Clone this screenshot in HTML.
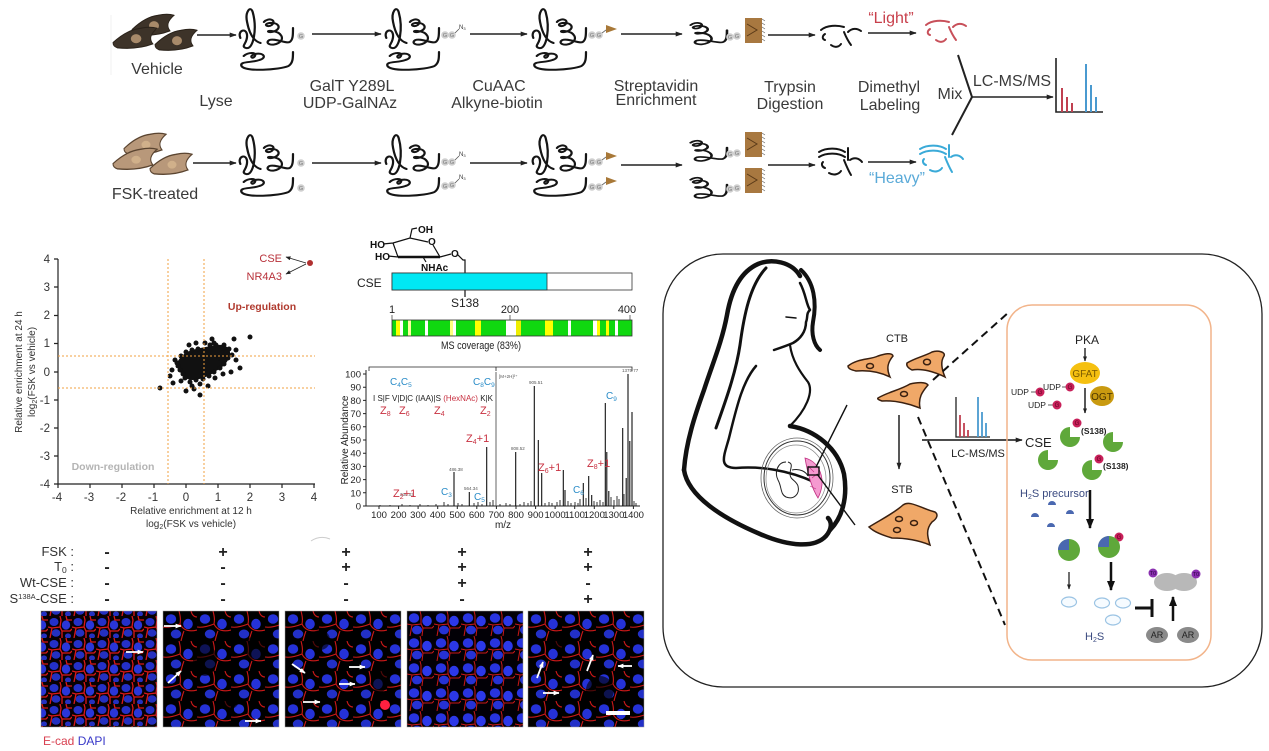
<!DOCTYPE html>
<html><head><meta charset="utf-8"><title>Figure</title>
<style>html,body{margin:0;padding:0;background:#fff}svg{display:block}text{font-family:"Liberation Sans",Arial,sans-serif}</style>
</head><body>
<svg xmlns="http://www.w3.org/2000/svg" width="1269" height="751" viewBox="0 0 1269 751">
<defs>
<marker id="a" viewBox="0 0 10 10" refX="9" refY="5" markerUnits="userSpaceOnUse" markerWidth="7" markerHeight="7" orient="auto"><path d="M0,1.5 L10,5 L0,8.5 Z" fill="#222"/></marker>
<marker id="b" viewBox="0 0 10 10" refX="9" refY="5" markerUnits="userSpaceOnUse" markerWidth="10" markerHeight="10" orient="auto"><path d="M0,1 L10,5 L0,9 Z" fill="#111"/></marker>
<marker id="c" viewBox="0 0 10 10" refX="9" refY="5" markerUnits="userSpaceOnUse" markerWidth="5" markerHeight="5" orient="auto"><path d="M0,1 L10,5 L0,9 Z" fill="#222"/></marker>
<marker id="w" viewBox="0 0 10 10" refX="9" refY="5" markerUnits="userSpaceOnUse" markerWidth="6" markerHeight="6" orient="auto"><path d="M0,1 L10,5 L0,9 Z" fill="#fff"/></marker>
<g id="prot" fill="none" stroke="#151515" stroke-width="2" stroke-linecap="round">
<path d="M3,30 C0,22 9,19 9,28 C9,36 3,38 8,40 C15,42 18,20 14,4 C12,-3 7,4 9,14 C11,26 15,33 21,35"/>
<path d="M24,14 C28,9 36,12 31,17 C27,20 23,16 29,15 C37,14 40,20 34,23 C28,26 25,22 31,23 C40,24 43,31 37,35 C31,39 24,35 29,32 C34,30 44,36 47,34 C50,32 50,27 50,20"/>
<path d="M6,48 C10,44 18,44 16,48 C14,52 10,48 16,46 C24,44 27,50 20,52 C13,55 2,53 4,58 C7,64 38,62 46,58 C50,55 50,50 50,44"/>
</g>
<g id="spi" fill="none" stroke="#151515" stroke-width="2" stroke-linecap="round">
<path d="M2,6 C6,1 14,4 9,9 C5,12 1,8 7,7 C15,6 18,12 12,15 C6,18 3,14 9,15 C18,16 21,23 15,27 C9,31 2,27 7,24 C12,22 24,28 27,26 C30,24 30,19 30,12"/>
</g>
<g id="cellV"><path d="M0,12 C8,6 16,2 26,1 C32,0 38,0 42,1 C36,5 34,9 38,13 C28,16 16,17 4,16 C1,15 0,14 0,12 Z" fill="#3d3329" stroke="#2a221a" stroke-width="0.8"/><ellipse cx="22" cy="9" rx="5" ry="3.5" fill="#a88a6a"/></g>
<g id="cellF"><path d="M0,12 C8,6 16,2 26,1 C32,0 38,0 42,1 C36,5 34,9 38,13 C28,16 16,17 4,16 C1,15 0,14 0,12 Z" fill="#b8987a" stroke="#5a4430" stroke-width="1"/><ellipse cx="22" cy="9" rx="4.5" ry="3" fill="#d0b08a"/></g>
<g id="pep" fill="none" stroke-width="2" stroke-linecap="round">
<path d="M4,7 C10,2 20,2 27,4 M8,11 C5,13 5,16 8,17 M14,22 C18,25 22,24 24,21 M27,9 C29,14 31,18 34,22 M31,9 C35,5 40,5 44,8"/>
</g>
<g id="pepH" fill="none" stroke-width="2" stroke-linecap="round">
<path d="M2,6 C10,1 22,2 28,6 M2,11 C10,6 22,7 28,11 M6,16 C4,18 5,21 8,22 M12,27 C17,30 22,28 24,25 M27,14 C29,19 31,24 34,29 M31,2 L31,14 M33,14 C37,11 42,12 45,16"/>
</g>
<g id="gg"><circle r="3.8" fill="#cfcfcf"/><text y="2" font-size="5.5" fill="#777" text-anchor="middle">G</text></g>
<pattern id="pA" width="24" height="22" patternUnits="userSpaceOnUse">
<rect width="24" height="22" fill="#080104"/>
<ellipse cx="6" cy="6" rx="4.5" ry="4" fill="#2430c8"/>
<ellipse cx="18" cy="9" rx="4.2" ry="4.6" fill="#2a36d8"/>
<ellipse cx="8" cy="17" rx="4.4" ry="3.8" fill="#2430c0"/>
<ellipse cx="20" cy="20" rx="3" ry="2.6" fill="#2430c0"/>
<path d="M0,11 L4,12 L12,11 L13,4 L12,0 M12,11 L14,15 L22,15 L24,13 M14,15 L14,22 M4,12 L2,22 M18,0 L19,4 L24,4" stroke="#d81818" stroke-width="1.3" fill="none"/>
</pattern>
<pattern id="pA2" width="27" height="25" patternUnits="userSpaceOnUse">
<rect width="27" height="25" fill="#020006"/>
<ellipse cx="7" cy="7" rx="5.2" ry="4.7" fill="#2834e0"/>
<ellipse cx="20" cy="10" rx="4.8" ry="5.2" fill="#2c38e8"/>
<ellipse cx="10" cy="19" rx="5" ry="4.4" fill="#2632d4"/>
<path d="M0,13 L5,14 L14,13 L14,4 L13,0 M14,13 L16,17 L25,17 L27,15 M16,17 L15,25 M5,14 L3,25" stroke="#c81818" stroke-width="1" fill="none"/>
</pattern>
<pattern id="pB" width="34" height="30" patternUnits="userSpaceOnUse">
<rect width="34" height="30" fill="#000"/>
<ellipse cx="8" cy="8" rx="5.2" ry="4.7" fill="#2532d8"/>
<ellipse cx="25" cy="13" rx="4.8" ry="5.2" fill="#2532d8"/>
<ellipse cx="13" cy="23" rx="5.2" ry="4.5" fill="#2230c8"/>
<path d="M0,16 C6,17 12,15 17,13 C18,8 17,4 16,0 M17,13 C20,19 26,21 34,19 M18,30 C19,26 20,22 21,20 M28,0 C29,4 31,6 34,6" stroke="#cc1818" stroke-width="1.1" fill="none"/>
</pattern>
</defs>
<rect width="1269" height="751" fill="#fff"/>

<!-- ================= TOP WORKFLOW ================= -->
<line x1="111" y1="15" x2="111" y2="75" stroke="#f2f2f2" stroke-width="1"/>
<use href="#cellV" transform="translate(132,14) scale(1,1.3)"/>
<use href="#cellV" transform="translate(113,27) scale(1.05,1.3)"/>
<use href="#cellV" transform="translate(155,29) scale(1,1.3)"/>
<use href="#cellF" transform="translate(124,133) scale(1,1.3)"/>
<use href="#cellF" transform="translate(113,148) scale(1.05,1.3)"/>
<use href="#cellF" transform="translate(150,153) scale(1,1.3)"/>

<g stroke="#222" stroke-width="1.6" marker-end="url(#a)">
<line x1="197" y1="35" x2="236" y2="35"/>
<line x1="312" y1="34" x2="381" y2="34"/>
<line x1="470" y1="34" x2="527" y2="34"/>
<line x1="621" y1="34" x2="682" y2="34"/>
<line x1="768" y1="35" x2="815" y2="35"/>
<line x1="868" y1="33" x2="916" y2="33"/>
<line x1="193" y1="163" x2="236" y2="163"/>
<line x1="312" y1="163" x2="381" y2="163"/>
<line x1="470" y1="163" x2="527" y2="163"/>
<line x1="621" y1="165" x2="682" y2="165"/>
<line x1="768" y1="165" x2="815" y2="165"/>
<line x1="868" y1="162" x2="916" y2="162"/>
<line x1="972" y1="97" x2="1053" y2="97"/>
</g>
<polyline points="958,55 972,97 952,135" fill="none" stroke="#222" stroke-width="2"/>

<!-- proteins row 1 -->
<use href="#prot" transform="translate(237,8) scale(1.12,1)"/>
<use href="#prot" transform="translate(383,8) scale(1.12,1)"/>
<use href="#prot" transform="translate(530,8) scale(1.12,1)"/>
<use href="#gg" x="301" y="36"/>
<use href="#gg" x="445" y="35"/><use href="#gg" x="452" y="35"/>
<line x1="455" y1="33" x2="459" y2="29" stroke="#555" stroke-width="0.8"/><text x="459" y="29" font-size="6" fill="#333">N<tspan font-size="4" dy="1">3</tspan></text>
<use href="#gg" x="592" y="35"/><use href="#gg" x="599" y="35"/>
<line x1="602" y1="33" x2="606" y2="30" stroke="#666" stroke-width="0.8"/><path d="M606,25 L617,29 L606,33 Z" fill="#a87838"/>
<!-- proteins row 2 -->
<use href="#prot" transform="translate(237,134) scale(1.12,1)"/>
<use href="#prot" transform="translate(383,134) scale(1.12,1)"/>
<use href="#prot" transform="translate(530,134) scale(1.12,1)"/>
<use href="#gg" x="301" y="163"/><use href="#gg" x="301" y="188"/>
<use href="#gg" x="445" y="162"/><use href="#gg" x="452" y="162"/>
<line x1="455" y1="160" x2="459" y2="156" stroke="#555" stroke-width="0.8"/><text x="459" y="156" font-size="6" fill="#333">N<tspan font-size="4" dy="1">3</tspan></text>
<use href="#gg" x="445" y="186"/><use href="#gg" x="452" y="185"/>
<line x1="455" y1="183" x2="459" y2="179" stroke="#555" stroke-width="0.8"/><text x="459" y="179" font-size="6" fill="#333">N<tspan font-size="4" dy="1">3</tspan></text>
<use href="#gg" x="592" y="162"/><use href="#gg" x="599" y="162"/>
<line x1="602" y1="160" x2="606" y2="157" stroke="#666" stroke-width="0.8"/><path d="M606,152 L617,156 L606,160 Z" fill="#a87838"/>
<use href="#gg" x="592" y="187"/><use href="#gg" x="599" y="187"/>
<line x1="602" y1="185" x2="606" y2="182" stroke="#666" stroke-width="0.8"/><path d="M606,177 L617,181 L606,185 Z" fill="#a87838"/>

<!-- streptavidin stage -->
<use href="#spi" transform="translate(688,20) scale(1.3,0.85)"/>
<use href="#gg" x="730" y="37"/><use href="#gg" x="737" y="36"/>
<rect x="745" y="18" width="17" height="25" fill="#a87840"/>
<path d="M747,24 L757,30 L747,36" fill="none" stroke="#5a3a18" stroke-width="1"/>
<path d="M762,19 l3,2 M762,23 l3,2 M762,27 l3,2 M762,31 l3,2 M762,35 l3,2 M762,39 l3,2" stroke="#666" stroke-width="0.7"/>
<use href="#spi" transform="translate(688,138) scale(1.3,0.8)"/>
<use href="#gg" x="730" y="154"/><use href="#gg" x="737" y="153"/>
<rect x="745" y="132" width="17" height="25" fill="#a87840"/>
<path d="M747,138 L757,144 L747,150" fill="none" stroke="#5a3a18" stroke-width="1"/>
<path d="M762,133 l3,2 M762,137 l3,2 M762,141 l3,2 M762,145 l3,2 M762,149 l3,2 M762,153 l3,2" stroke="#666" stroke-width="0.7"/>
<use href="#spi" transform="translate(688,175) scale(1.3,0.8)"/>
<use href="#gg" x="730" y="189"/><use href="#gg" x="737" y="188"/>
<rect x="745" y="168" width="17" height="25" fill="#a87840"/>
<path d="M747,174 L757,180 L747,186" fill="none" stroke="#5a3a18" stroke-width="1"/>
<path d="M762,169 l3,2 M762,173 l3,2 M762,177 l3,2 M762,181 l3,2 M762,185 l3,2 M762,189 l3,2" stroke="#666" stroke-width="0.7"/>

<!-- peptides -->
<use href="#pep" x="817" y="23" stroke="#151515"/>
<use href="#pep" x="922" y="18" stroke="#c8505a"/>
<use href="#pepH" x="817" y="146" stroke="#151515"/>
<use href="#pepH" x="918" y="143" stroke="#3aaad8"/>

<!-- spectrum top right -->
<path d="M1056,58 L1056,112 L1103,112" fill="none" stroke="#222" stroke-width="1.6"/>
<g stroke="#c04050" stroke-width="2"><line x1="1062" y1="88" x2="1062" y2="112"/><line x1="1067" y1="97" x2="1067" y2="112"/><line x1="1072" y1="103" x2="1072" y2="112"/></g>
<g stroke="#4a9ad0" stroke-width="2"><line x1="1086" y1="64" x2="1086" y2="112"/><line x1="1091" y1="85" x2="1091" y2="112"/><line x1="1096" y1="97" x2="1096" y2="112"/></g>

<g font-size="16" fill="#3a3a3a" text-anchor="middle">
<text x="157" y="74">Vehicle</text>
<text x="155" y="199">FSK-treated</text>
<text x="216" y="106">Lyse</text>
<text x="352" y="91">GalT Y289L</text>
<text x="350" y="108">UDP-GalNAz</text>
<text x="499" y="91">CuAAC</text>
<text x="497" y="108">Alkyne-biotin</text>
<text x="656" y="91">Streptavidin</text>
<text x="656" y="105">Enrichment</text>
<text x="790" y="92">Trypsin</text>
<text x="790" y="109">Digestion</text>
<text x="889" y="92">Dimethyl</text>
<text x="890" y="110">Labeling</text>
<text x="950" y="99">Mix</text>
<text x="1012" y="86">LC-MS/MS</text>
<text x="891" y="23" fill="#c8404c">“Light”</text>
<text x="897" y="183" fill="#5aaad8">“Heavy”</text>
</g>

<!-- ================= SCATTER ================= -->
<g stroke="#222" stroke-width="1.2" fill="none">
<path d="M58,259 L58,484 L315,484"/>
<path d="M54,259 H58 M54,287 H58 M54,315.5 H58 M54,343.5 H58 M54,372 H58 M54,400 H58 M54,428 H58 M54,456 H58 M54,484 H58"/>
<path d="M58,484 V488 M90,484 V488 M122,484 V488 M154,484 V488 M186,484 V488 M218,484 V488 M250,484 V488 M282,484 V488 M314,484 V488"/>
</g>
<g font-size="11.5" fill="#333" text-anchor="end">
<text x="50" y="263">4</text><text x="50" y="291">3</text><text x="50" y="319">2</text><text x="50" y="347">1</text><text x="50" y="376">0</text><text x="50" y="404">-1</text><text x="50" y="432">-2</text><text x="50" y="460">-3</text><text x="50" y="488">-4</text>
</g>
<g font-size="11.5" fill="#333" text-anchor="middle">
<text x="57" y="501">-4</text><text x="89" y="501">-3</text><text x="121" y="501">-2</text><text x="153" y="501">-1</text><text x="186" y="501">0</text><text x="218" y="501">1</text><text x="250" y="501">2</text><text x="282" y="501">3</text><text x="314" y="501">4</text>
</g>
<g font-size="10" fill="#333" text-anchor="middle">
<text x="191" y="514">Relative enrichment at 12 h</text>
<text x="191" y="527">log<tspan font-size="7" dy="2">2</tspan><tspan dy="-2">(FSK vs vehicle)</tspan></text>
<text transform="translate(22,372) rotate(-90)">Relative enrichment at 24 h</text>
<text transform="translate(35,372) rotate(-90)">log<tspan font-size="7" dy="2">2</tspan><tspan dy="-2">(FSK vs vehicle)</tspan></text>
</g>
<path d="M177,363 C180,356 186,352 192,350 C200,348 210,346 217,345 C225,344 231,348 230,354 C229,362 222,368 216,371 C210,376 200,380 192,380 C185,380 178,372 177,363 Z" fill="#111"/>
<g fill="#111">
<circle cx="160" cy="388" r="2.5"/><circle cx="173" cy="383" r="2.5"/><circle cx="186" cy="391" r="2.5"/><circle cx="194" cy="389" r="2.5"/><circle cx="200" cy="395" r="2.5"/><circle cx="231" cy="372" r="2.5"/><circle cx="234" cy="339" r="2.5"/><circle cx="250" cy="337" r="2.5"/><circle cx="212" cy="339" r="2.5"/><circle cx="219" cy="358" r="2.5"/><circle cx="175" cy="360" r="2.5"/><circle cx="178" cy="366" r="2.5"/><circle cx="180" cy="370" r="2.5"/><circle cx="183" cy="374" r="2.5"/><circle cx="185" cy="378" r="2.5"/><circle cx="190" cy="382" r="2.5"/><circle cx="196" cy="380" r="2.5"/><circle cx="203" cy="379" r="2.5"/><circle cx="209" cy="376" r="2.5"/><circle cx="214" cy="372" r="2.5"/><circle cx="220" cy="368" r="2.5"/><circle cx="224" cy="364" r="2.5"/><circle cx="228" cy="358" r="2.5"/><circle cx="226" cy="352" r="2.5"/><circle cx="222" cy="348" r="2.5"/><circle cx="216" cy="345" r="2.5"/><circle cx="210" cy="345" r="2.5"/><circle cx="204" cy="350" r="2.5"/><circle cx="198" cy="349" r="2.5"/><circle cx="192" cy="350" r="2.5"/><circle cx="186" cy="352" r="2.5"/><circle cx="181" cy="356" r="2.5"/><circle cx="177" cy="363" r="2.5"/><circle cx="205" cy="343" r="2.5"/><circle cx="214" cy="343" r="2.5"/><circle cx="224" cy="345" r="2.5"/><circle cx="229" cy="349" r="2.5"/><circle cx="232" cy="355" r="2.5"/><circle cx="236" cy="360" r="2.5"/><circle cx="236" cy="350" r="2.5"/><circle cx="200" cy="384" r="2.5"/><circle cx="192" cy="386" r="2.5"/><circle cx="181" cy="381" r="2.5"/><circle cx="208" cy="386" r="2.5"/><circle cx="172" cy="370" r="2.5"/><circle cx="215" cy="378" r="2.5"/><circle cx="223" cy="374" r="2.5"/><circle cx="196" cy="343" r="2.5"/><circle cx="189" cy="345" r="2.5"/><circle cx="240" cy="368" r="2.5"/><circle cx="170" cy="376" r="2.5"/>
</g>
<g stroke="#f0a040" stroke-width="1" stroke-dasharray="2,2">
<line x1="168" y1="259" x2="168" y2="484"/><line x1="204" y1="259" x2="204" y2="484"/>
<line x1="58" y1="356" x2="315" y2="356"/><line x1="58" y1="388" x2="315" y2="388"/>
</g>
<circle cx="310" cy="263" r="3" fill="#b03030"/>
<g stroke="#222" stroke-width="0.9" marker-end="url(#c)"><line x1="306" y1="263" x2="286" y2="257"/><line x1="306" y1="264" x2="286" y2="274"/></g>
<text x="282" y="262" font-size="11" fill="#b8313a" text-anchor="end">CSE</text>
<text x="282" y="280" font-size="11" fill="#b8313a" text-anchor="end">NR4A3</text>
<text x="262" y="310" font-size="10.5" font-weight="bold" fill="#b03a2e" text-anchor="middle">Up-regulation</text>
<text x="113" y="470" font-size="10.5" font-weight="bold" fill="#b4b4b4" text-anchor="middle">Down-regulation</text>

<!-- ================= CSE DOMAIN ================= -->
<g fill="none" stroke="#111" stroke-width="1.2">
<path d="M393,243 L410,238 L428,242 M433,245 L440,257 M398,257 L393,243 M383,244 L393,243 M388,256 L398,257 M423,257 L426,262 M440,257 L451,254 M457,254 L463,260 L465,260 L465,273 M410,238 L412,229 L417,228"/>
<path d="M398,257 L423,257 L440,257" stroke-width="2.6"/>
<line x1="465" y1="290" x2="465" y2="297"/>
</g>
<g font-size="10" font-weight="bold" fill="#111">
<text x="418" y="233">OH</text><text x="428" y="245">O</text><text x="370" y="248">HO</text><text x="375" y="260">HO</text><text x="421" y="271">NHAc</text><text x="451" y="257">O</text>
</g>
<text x="357" y="287" font-size="12" fill="#222">CSE</text>
<rect x="392" y="273" width="240" height="17" fill="#fff" stroke="#333" stroke-width="0.8"/>
<rect x="392" y="273" width="155" height="17" fill="#00e8f4" stroke="#333" stroke-width="0.8"/>
<text x="465" y="307" font-size="12" fill="#222" text-anchor="middle">S138</text>
<g font-size="11" fill="#222" text-anchor="middle"><text x="392" y="313">1</text><text x="510" y="313">200</text><text x="627" y="313">400</text></g>
<g stroke="#333" stroke-width="0.7"><line x1="392" y1="315" x2="392" y2="320"/><line x1="510" y1="315" x2="510" y2="320"/><line x1="630" y1="315" x2="630" y2="320"/></g>
<rect x="392" y="320" width="240" height="16" fill="#10d810" stroke="#333" stroke-width="0.8"/>
<g>
<rect x="396" y="320.5" width="4" height="15" fill="#ff0"/><rect x="400" y="320.5" width="3" height="15" fill="#fff"/><rect x="408" y="320.5" width="3" height="15" fill="#ffffa0"/>
<rect x="425" y="320.5" width="3" height="15" fill="#fff"/><rect x="450" y="320.5" width="3" height="15" fill="#ffff80"/><rect x="453" y="320.5" width="3" height="15" fill="#fff"/>
<rect x="475" y="320.5" width="6" height="15" fill="#ff0"/><rect x="506" y="320.5" width="10" height="15" fill="#fff"/><rect x="516" y="320.5" width="5" height="15" fill="#ee0"/>
<rect x="545" y="320.5" width="8" height="15" fill="#ff0"/><rect x="568" y="320.5" width="3" height="15" fill="#fff"/>
<rect x="593" y="320.5" width="4" height="15" fill="#fff"/><rect x="597" y="320.5" width="3" height="15" fill="#ff0"/><rect x="606" y="320.5" width="3" height="15" fill="#ff0"/><rect x="615" y="320.5" width="3" height="15" fill="#fff"/>
</g>
<text x="481" y="349" font-size="11" fill="#222" text-anchor="middle" textLength="80" lengthAdjust="spacingAndGlyphs">MS coverage (83%)</text>

<!-- ================= MS SPECTRUM ================= -->
<g stroke="#222" stroke-width="1" fill="none">
<path d="M366,370 L366,506 L640,506"/>
<path d="M363,374 H366 M363,387.2 H366 M363,400.4 H366 M363,413.6 H366 M363,426.8 H366 M363,440 H366 M363,453.2 H366 M363,466.4 H366 M363,479.6 H366 M363,492.8 H366 M363,506 H366"/>
<path d="M379,506 v3 M398.6,506 v3 M418.1,506 v3 M437.7,506 v3 M457.3,506 v3 M476.8,506 v3 M496.4,506 v3 M516,506 v3 M535.6,506 v3 M555.1,506 v3 M574.7,506 v3 M594.3,506 v3 M613.8,506 v3 M633.4,506 v3"/>
<path d="M369,371 L369,367 L632,367 L632,371 M496,367 L496,371" stroke-width="0.8"/>
</g>
<line x1="496" y1="372" x2="496" y2="506" stroke="#555" stroke-width="0.9"/>
<g font-size="9.5" fill="#222" text-anchor="end">
<text x="361" y="377.5">100</text><text x="361" y="390.7">90</text><text x="361" y="403.9">80</text><text x="361" y="417.1">70</text><text x="361" y="430.3">60</text><text x="361" y="443.5">50</text><text x="361" y="456.7">40</text><text x="361" y="469.9">30</text><text x="361" y="483.1">20</text><text x="361" y="496.3">10</text><text x="361" y="509.5">0</text>
</g>
<g font-size="9.5" fill="#222" text-anchor="middle">
<text x="379" y="518">100</text><text x="398.6" y="518">200</text><text x="418.1" y="518">300</text><text x="437.7" y="518">400</text><text x="457.3" y="518">500</text><text x="476.8" y="518">600</text><text x="496.4" y="518">700</text><text x="516" y="518">800</text><text x="535.6" y="518">900</text><text x="555.1" y="518">1000</text><text x="574.7" y="518">1100</text><text x="594.3" y="518">1200</text><text x="613.8" y="518">1300</text><text x="633.4" y="518">1400</text>
</g>
<text x="503" y="528" font-size="10" fill="#222" text-anchor="middle">m/z</text>
<text transform="translate(348,440) rotate(-90)" font-size="10" fill="#222" text-anchor="middle">Relative Abundance</text>
<g stroke="#111" stroke-width="1.1">
<line x1="454" y1="506" x2="454" y2="472"/><line x1="469.3" y1="506" x2="469.3" y2="492"/><line x1="486.7" y1="506" x2="486.7" y2="447"/><line x1="515.7" y1="506" x2="515.7" y2="452"/><line x1="534.3" y1="506" x2="534.3" y2="386"/><line x1="538.3" y1="506" x2="538.3" y2="440"/><line x1="541.7" y1="506" x2="541.7" y2="473"/><line x1="563.3" y1="506" x2="563.3" y2="470"/><line x1="565" y1="506" x2="565" y2="490"/><line x1="583.3" y1="506" x2="583.3" y2="483"/><line x1="588.7" y1="506" x2="588.7" y2="476"/><line x1="591.7" y1="506" x2="591.7" y2="495"/><line x1="605.3" y1="506" x2="605.3" y2="403"/><line x1="606.8" y1="506" x2="606.8" y2="452"/><line x1="608.8" y1="506" x2="608.8" y2="491"/><line x1="622.7" y1="506" x2="622.7" y2="428"/><line x1="626.2" y1="506" x2="626.2" y2="478"/><line x1="628" y1="506" x2="628" y2="374"/><line x1="629.8" y1="506" x2="629.8" y2="441"/><line x1="632" y1="506" x2="632" y2="412"/>
</g>
<path d="M380,506v-1 M390,506v-1 M402,506v-2 M410,506v-1 M420,506v-2 M428,506v-1 M436,506v-2 M444,506v-4 M448,506v-2 M458,506v-3 M462,506v-2 M474,506v-3 M478,506v-4 M482,506v-2 M490,506v-4 M493,506v-6 M500,506v-2 M506,506v-3 M510,506v-2 M520,506v-2 M524,506v-4 M528,506v-3 M531,506v-5 M545,506v-3 M549,506v-4 M552,506v-3 M557,506v-4 M560,506v-6 M568,506v-5 M571,506v-3 M575,506v-4 M578,506v-3 M580,506v-7 M586,506v-8 M594,506v-5 M597,506v-4 M600,506v-6 M603,506v-4 M611,506v-9 M614,506v-6 M617,506v-10 M619,506v-7 M624,506v-12 M634,506v-5 M636,506v-3" stroke="#222" stroke-width="0.9"/>
<g font-size="4.5" fill="#555"><text x="499" y="378">[M+2H]²⁺</text><text x="449" y="471">486.38</text><text x="464" y="490">564.34</text><text x="529" y="384">905.51</text><text x="511" y="450">808.52</text><text x="622" y="372">1375.77</text><text x="400" y="496">330.03</text></g>
<g font-size="10" fill="#2a8cc8">
<text x="390" y="385">C<tspan font-size="6.5" dy="2">4</tspan><tspan dy="-2">C</tspan><tspan font-size="6.5" dy="2">5</tspan></text>
<text x="473" y="385">C<tspan font-size="6.5" dy="2">8</tspan><tspan dy="-2">C</tspan><tspan font-size="6.5" dy="2">9</tspan></text>
<text x="441" y="495">C<tspan font-size="6.5" dy="2">3</tspan></text>
<text x="474" y="500">C<tspan font-size="6.5" dy="2">5</tspan></text>
<text x="573" y="493">C<tspan font-size="6.5" dy="2">6</tspan></text>
<text x="606" y="399">C<tspan font-size="6.5" dy="2">9</tspan></text>
</g>
<text x="373" y="401" font-size="8.5" fill="#222" textLength="120" lengthAdjust="spacingAndGlyphs">I S|F V|D|C (IAA)|S <tspan fill="#c83040">(HexNAc)</tspan> K|K</text>
<g font-size="11" fill="#c83040">
<text x="380" y="414">Z<tspan font-size="7" dy="2">8</tspan></text>
<text x="399" y="414">Z<tspan font-size="7" dy="2">6</tspan></text>
<text x="434" y="414">Z<tspan font-size="7" dy="2">4</tspan></text>
<text x="480" y="414">Z<tspan font-size="7" dy="2">2</tspan></text>
<text x="466" y="442">Z<tspan font-size="7" dy="2">4</tspan><tspan dy="-2">+1</tspan></text>
<text x="393" y="497">Z<tspan font-size="7" dy="2">2</tspan><tspan dy="-2">+1</tspan></text>
<text x="538" y="471">Z<tspan font-size="7" dy="2">6</tspan><tspan dy="-2">+1</tspan></text>
<text x="587" y="467">Z<tspan font-size="7" dy="2">8</tspan><tspan dy="-2">+1</tspan></text>
</g>

<!-- ================= TABLE + MICROSCOPY ================= -->
<path d="M311,541 Q320,535 330,539" fill="none" stroke="#ccc" stroke-width="1"/>
<g font-size="13" fill="#333" text-anchor="end">
<text x="74" y="556">FSK :</text>
<text x="74" y="571">T<tspan font-size="8.5" dy="2">0</tspan><tspan dy="-2"> :</tspan></text>
<text x="74" y="587">Wt-CSE :</text>
<text x="74" y="603">S<tspan font-size="7.5" dy="-4">138A</tspan><tspan dy="4">-CSE :</tspan></text>
</g>
<g font-size="16" font-weight="bold" fill="#222" text-anchor="middle">
<text x="107" y="557">-</text><text x="223" y="557">+</text><text x="346" y="557">+</text><text x="462" y="557">+</text><text x="588" y="557">+</text>
<text x="107" y="572">-</text><text x="223" y="572">-</text><text x="346" y="572">+</text><text x="462" y="572">+</text><text x="588" y="572">+</text>
<text x="107" y="588">-</text><text x="223" y="588">-</text><text x="346" y="588">-</text><text x="462" y="588">+</text><text x="588" y="588">-</text>
<text x="107" y="604">-</text><text x="223" y="604">-</text><text x="346" y="604">-</text><text x="462" y="604">-</text><text x="588" y="604">+</text>
</g>
<rect x="41" y="611" width="116" height="116" fill="url(#pA)" stroke="#999" stroke-width="0.5"/>
<rect x="0" y="0" width="116" height="116" fill="url(#pB)" stroke="#999" stroke-width="0.5" transform="translate(163,611)"/>
<rect x="0" y="0" width="116" height="116" fill="url(#pB)" stroke="#999" stroke-width="0.5" transform="translate(285,611)"/>
<rect x="0" y="0" width="116" height="116" fill="url(#pA2)" stroke="#999" stroke-width="0.5" transform="translate(407,611)"/>
<rect x="0" y="0" width="116" height="116" fill="url(#pB)" stroke="#999" stroke-width="0.5" transform="translate(528,611)"/>
<g fill="#000" opacity="0.6">
<ellipse cx="205" cy="660" rx="12" ry="16"/><ellipse cx="255" cy="648" rx="10" ry="12"/><ellipse cx="230" cy="700" rx="9" ry="9"/>
<ellipse cx="320" cy="640" rx="10" ry="10"/><ellipse cx="380" cy="680" rx="9" ry="12"/>
<ellipse cx="600" cy="690" rx="14" ry="14"/><ellipse cx="560" cy="640" rx="8" ry="9"/>
</g>
<circle cx="385" cy="705" r="5" fill="#ff2040"/>
<g stroke="#fff" stroke-width="1.8" marker-end="url(#w)">
<line x1="126" y1="652" x2="143" y2="652"/>
<line x1="164" y1="626" x2="181" y2="626"/><line x1="168" y1="683" x2="181" y2="671"/><line x1="245" y1="721" x2="261" y2="721"/>
<line x1="292" y1="664" x2="305" y2="673"/><line x1="349" y1="667" x2="365" y2="667"/><line x1="339" y1="684" x2="355" y2="684"/><line x1="303" y1="702" x2="320" y2="702"/>
<line x1="537" y1="678" x2="543" y2="662"/><line x1="587" y1="671" x2="593" y2="655"/><line x1="632" y1="666" x2="618" y2="666"/><line x1="543" y1="693" x2="559" y2="693"/>
</g>
<rect x="606" y="711" width="24" height="4" fill="#fff"/>
<text x="43" y="745" font-size="12"><tspan fill="#d84050">E-cad</tspan> <tspan fill="#3838c8">DAPI</tspan></text>

<!-- ================= RIGHT PANEL ================= -->
<rect x="663" y="254" width="599" height="433" rx="60" ry="60" fill="none" stroke="#222" stroke-width="1.3"/>
<g fill="none" stroke="#111" stroke-linecap="round" stroke-linejoin="round">
<path stroke-width="4.5" d="M800,276 C792,262 772,258 758,264 C740,272 731,292 727,315 C722,342 712,365 704,390 C695,415 686,442 684,470"/>
<path stroke-width="4.5" d="M684,470 C688,496 722,518 760,534 C790,547 815,548 826,536 C832,529 832,522 828,518"/>
<path stroke-width="4.5" d="M790,426 C815,430 838,448 844,474 C848,498 842,518 830,530"/>
<path stroke-width="3" d="M766,268 C750,285 744,315 740,345 C736,372 726,400 716,428"/>
<path stroke-width="2.5" d="M800,283 C806,294 806,304 810,310 C806,313 808,318 806,322 C806,332 800,339 793,343 C786,346 780,348 774,350"/>
<path stroke-width="4" d="M801,270 C814,282 817,302 813,322 C811,334 814,345 820,350"/>
<path stroke-width="2.2" d="M790,345 C792,360 800,372 808,382 C814,392 806,410 790,426"/>
<path stroke-width="2.5" d="M756,366 C742,382 736,410 729,438 C724,456 718,468 736,468 C760,466 788,470 814,482"/>
<path stroke-width="1.5" d="M786,317 L796,318"/>
</g>
<ellipse cx="797" cy="478" rx="36" ry="40" fill="none" stroke="#666" stroke-width="0.8"/>
<ellipse cx="797" cy="478" rx="33" ry="37" fill="none" stroke="#333" stroke-width="1"/>
<ellipse cx="796" cy="479" rx="30" ry="34" fill="none" stroke="#888" stroke-width="0.7"/>
<path d="M786,462 C778,462 774,472 778,480 C782,487 780,494 786,497 C794,500 800,494 798,486 C796,480 790,480 790,474 C790,468 794,464 788,462 M792,470 C800,468 806,472 808,476" fill="none" stroke="#222" stroke-width="1"/>
<path d="M805,458 C820,462 827,480 818,498 C813,490 808,476 805,458 Z" fill="#f59ad0" stroke="#c03080" stroke-width="0.8"/>
<path d="M808,466 l6,6 M812,478 l5,-4 M810,486 l6,3" stroke="#c03080" stroke-width="0.6"/>
<g stroke="#111" stroke-width="1.4" fill="none">
<line x1="847" y1="405" x2="816" y2="467"/>
<rect x="808" y="467" width="11" height="8"/>
<line x1="817" y1="474" x2="855" y2="525"/>
</g>
<g fill="#f0a868" stroke="#3a2010" stroke-width="1.5">
<path d="M848,366 C858,358 870,360 878,356 C884,354 892,352 893,356 C888,362 886,368 890,377 C880,372 868,370 856,371 C852,370 848,369 848,366 Z"/>
<path d="M907,363 C915,358 925,356 932,352 C938,350 946,352 944,356 C940,362 942,370 945,377 C935,372 922,368 912,370 C908,368 906,366 907,363 Z"/>
<path d="M878,398 C888,392 900,390 910,384 C918,382 926,382 928,385 C922,392 918,398 920,408 C910,404 895,400 882,401 C879,400 877,399 878,398 Z"/>
<path d="M869,527 C880,520 893,514 903,505 C910,500 920,508 935,512 C938,514 938,518 932,522 C925,530 928,538 930,545 C918,540 905,538 892,538 C882,535 874,532 869,527 Z"/>
<ellipse cx="870" cy="366" rx="3.5" ry="2.5"/><ellipse cx="927" cy="362" rx="3.5" ry="2.8"/><ellipse cx="904" cy="394" rx="3.5" ry="2.5"/>
<ellipse cx="899" cy="519" rx="3.5" ry="2.5"/><ellipse cx="914" cy="523" rx="3.5" ry="2.5"/><ellipse cx="897" cy="530" rx="3.5" ry="2.5"/>
</g>
<text x="897" y="342" font-size="11" fill="#222" text-anchor="middle">CTB</text>
<text x="902" y="493" font-size="11" fill="#222" text-anchor="middle">STB</text>
<line x1="899" y1="415" x2="899" y2="469" stroke="#111" stroke-width="1.4" marker-end="url(#a)"/>
<g stroke="#111" stroke-width="2" stroke-dasharray="8,5" fill="none">
<line x1="933" y1="380" x2="1009" y2="312"/>
<line x1="918" y1="417" x2="1005" y2="625"/>
</g>
<path d="M956,397 L956,437 L990,437" fill="none" stroke="#222" stroke-width="1.3"/>
<g stroke="#c04050" stroke-width="1.8"><line x1="960" y1="415" x2="960" y2="437"/><line x1="964" y1="423" x2="964" y2="437"/><line x1="968" y1="430" x2="968" y2="437"/></g>
<g stroke="#4a9ad0" stroke-width="1.8"><line x1="978" y1="397" x2="978" y2="437"/><line x1="982" y1="412" x2="982" y2="437"/><line x1="986" y1="423" x2="986" y2="437"/></g>
<line x1="922" y1="440" x2="1022" y2="440" stroke="#111" stroke-width="1.6" marker-end="url(#a)"/>
<text x="978" y="457" font-size="11" fill="#222" text-anchor="middle">LC-MS/MS</text>
<text x="1025" y="447" font-size="13" fill="#222">CSE</text>

<rect x="1007" y="305" width="204" height="355" rx="25" ry="25" fill="none" stroke="#f2b48a" stroke-width="1.5"/>
<text x="1087" y="344" font-size="12" fill="#222" text-anchor="middle">PKA</text>
<line x1="1085" y1="348" x2="1085" y2="361" stroke="#111" stroke-width="1.3" marker-end="url(#c)"/>
<ellipse cx="1085" cy="373" rx="15" ry="11" fill="#f5c010"/>
<text x="1085" y="377" font-size="10" fill="#7a5a00" text-anchor="middle">GFAT</text>
<ellipse cx="1102" cy="396" rx="12" ry="10" fill="#c99a10"/>
<text x="1102" y="400" font-size="10" fill="#4a3500" text-anchor="middle">OGT</text>
<line x1="1085" y1="388" x2="1085" y2="413" stroke="#111" stroke-width="1.4" marker-end="url(#c)"/>
<g font-size="8.5" fill="#222">
<text x="1011" y="395">UDP</text><text x="1043" y="390">UDP</text><text x="1028" y="408">UDP</text>
</g>
<g stroke="#333" stroke-width="0.8"><line x1="1031" y1="392" x2="1036" y2="392"/><line x1="1062" y1="387" x2="1066" y2="387"/><line x1="1048" y1="405" x2="1053" y2="405"/></g>
<g fill="#c8205a"><circle cx="1040" cy="392" r="4.5"/><circle cx="1070" cy="387" r="4.5"/><circle cx="1057" cy="405" r="4.5"/><circle cx="1077" cy="423" r="4.5"/><circle cx="1099" cy="459" r="4.5"/><circle cx="1119" cy="537" r="4.5"/></g>
<g font-size="6" fill="#600020" text-anchor="middle"><text x="1040" y="394">G</text><text x="1070" y="389">G</text><text x="1057" y="407">G</text><text x="1077" y="425">G</text><text x="1099" y="461">G</text><text x="1119" y="539">G</text></g>
<g fill="#5fa83a">
<path d="M1070,437 L1070,427 A10,10 0 1,0 1080,437 Z"/>
<path d="M1113,442 L1113,432 A10,10 0 1,0 1123,442 Z"/>
<path d="M1048,460 L1048,450 A10,10 0 1,0 1058,460 Z"/>
<path d="M1092,470 L1092,460 A10,10 0 1,0 1102,470 Z"/>
</g>
<g font-size="8.5" font-weight="bold" fill="#222"><text x="1081" y="434">(S138)</text><text x="1103" y="469">(S138)</text></g>
<text x="1020" y="497" font-size="11" fill="#3a4a80">H<tspan font-size="7" dy="2">2</tspan><tspan dy="-2">S precursor</tspan></text>
<g fill="#4a68b0">
<path d="M1031,517 A4,4 0 0,1 1039,517 Z"/><path d="M1048,505 A4,4 0 0,1 1056,505 Z"/><path d="M1066,514 A4,4 0 0,1 1074,514 Z"/><path d="M1047,527 A4,4 0 0,1 1055,527 Z"/>
</g>
<line x1="1090" y1="490" x2="1090" y2="528" stroke="#111" stroke-width="2.5" marker-end="url(#b)"/>
<circle cx="1069" cy="550" r="11" fill="#5fa83a"/>
<path d="M1069,550 L1058,550 A11,11 0 0,1 1069,539 Z" fill="#4a68b0"/>
<circle cx="1109" cy="547" r="11" fill="#5fa83a"/>
<path d="M1109,547 L1098,547 A11,11 0 0,1 1109,536 Z" fill="#4a68b0"/>
<line x1="1069" y1="572" x2="1069" y2="589" stroke="#111" stroke-width="1.2" marker-end="url(#c)"/>
<line x1="1111" y1="562" x2="1111" y2="590" stroke="#111" stroke-width="2.5" marker-end="url(#b)"/>
<g fill="#f6fbff" stroke="#9cc4e4" stroke-width="1.2">
<ellipse cx="1069" cy="602" rx="7.5" ry="5"/><ellipse cx="1102" cy="603" rx="7.5" ry="5"/><ellipse cx="1123" cy="603" rx="7.5" ry="5"/><ellipse cx="1113" cy="620" rx="7.5" ry="5"/>
</g>
<text x="1085" y="640" font-size="11" fill="#3a4a80">H<tspan font-size="7" dy="2">2</tspan><tspan dy="-2">S</tspan></text>
<g stroke="#111" stroke-width="3"><line x1="1135" y1="608" x2="1152" y2="608"/><line x1="1152" y1="599" x2="1152" y2="617"/></g>
<line x1="1173" y1="621" x2="1173" y2="597" stroke="#111" stroke-width="2.5" marker-end="url(#b)"/>
<ellipse cx="1167" cy="582" rx="13" ry="9" fill="#b8b8b8"/><ellipse cx="1184" cy="582" rx="13" ry="9" fill="#b8b8b8"/>
<circle cx="1153" cy="573" r="4.5" fill="#8a30b0"/><circle cx="1196" cy="574" r="4.5" fill="#8a30b0"/>
<g font-size="5.5" fill="#2a0040" text-anchor="middle"><text x="1153" y="575">T0</text><text x="1196" y="576">T0</text></g>
<ellipse cx="1157" cy="635" rx="11" ry="8" fill="#8a8a8a"/><ellipse cx="1188" cy="635" rx="11" ry="8" fill="#8a8a8a"/>
<g font-size="9" fill="#222" text-anchor="middle"><text x="1157" y="638">AR</text><text x="1188" y="638">AR</text></g>
</svg>
</body></html>
